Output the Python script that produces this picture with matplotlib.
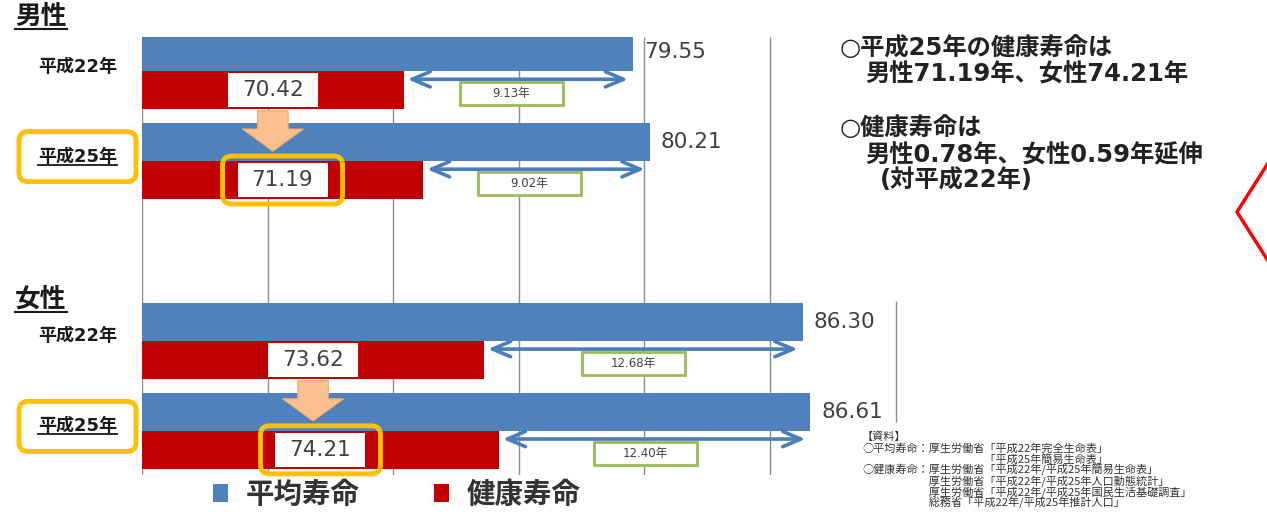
import matplotlib.pyplot as plt
import matplotlib.transforms as mtransforms
from matplotlib.patches import FancyBboxPatch
from matplotlib.lines import Line2D

plt.rcParams['font.family'] = ['DejaVu Sans', 'Noto Sans CJK JP']

# data (years of life, 平成22年 / 平成25年, men then women)
sections = ["男性", "女性"]
row_labels = ["平成22年", "平成25年", "平成22年", "平成25年"]
avg_life = [79.55, 80.21, 86.30, 86.61]        # 平均寿命
healthy_life = [70.42, 71.19, 73.62, 74.21]    # 健康寿命
row_pos = [0, 1, 3, 4]
highlight = [False, True, False, True]
series_names = ["平均寿命", "健康寿命"]

notes = ["○平成25年の健康寿命は", "男性71.19年、女性74.21年",
         "○健康寿命は", "男性0.78年、女性0.59年延伸", "(対平成22年)"]
sources = ["【資料】",
           "○平均寿命：厚生労働省「平成22年完全生命表」",
           "　　　　　　　　　　　「平成25年簡易生命表」",
           "○健康寿命：厚生労働省「平成22年/平成25年簡易生命表」",
           "　　　　　　厚生労働省「平成22年/平成25年人口動態統計」",
           "　　　　　　厚生労働省「平成22年/平成25年国民生活基礎調査」",
           "　　　　　　総務省「平成22年/平成25年推計人口」"]

BLUE = '#4F81BD'
RED = '#C00000'
ORANGE = '#FFC000'
GREEN = '#9BBB59'
TXT = '#404040'
x_min, x_max = 60, 90.2
y_top, y_bot = -0.38, 4.49
bar_h = 0.42

fig = plt.figure(figsize=(12.67, 5.12), dpi=100)
ax = fig.add_axes([142 / 1267, 1 - 475 / 512, 30.2 * 25.12 / 1267, 438 / 512])
ax.set_xlim(x_min, x_max)
ax.set_ylim(y_bot, y_top)
ax.axis('off')

# gridlines
ax.vlines([60, 65, 70, 75, 80, 85], y_top, y_bot, color='#8C8C8C', lw=1, zorder=1)
ax.vlines([90], 2.55, 3.9, color='#8C8C8C', lw=1, zorder=1)

b1 = ax.barh([p - bar_h / 2 for p in row_pos], avg_life, height=bar_h, color=BLUE, zorder=2)
b2 = ax.barh([p + bar_h / 2 for p in row_pos], healthy_life, height=bar_h, color=RED, zorder=2)

ylab_tr = ax.get_yaxis_transform()
label_texts, ring_texts, red_texts, diff_texts = [], [], [], []
for i, p in enumerate(row_pos):
    a, h = avg_life[i], healthy_life[i]
    ax.text(a + 0.45, p - bar_h / 2, f"{a:.2f}", ha='left', va='center',
            size=15.5, color=TXT, zorder=5)
    t = ax.text((x_min + h) / 2, p + bar_h / 2, f"{h:.2f}", ha='center', va='center',
                size=15.5, color=TXT, zorder=6)
    red_texts.append(t)
    if highlight[i]:
        ring_texts.append(t)
    # gap arrow
    ax.annotate("", xy=(h + 0.15, p + 0.09), xytext=(a - 0.2, p + 0.09),
                arrowprops=dict(arrowstyle="<->,head_length=1.3,head_width=0.55",
                                mutation_scale=10, color='#4A7EBB', lw=2.6,
                                shrinkA=0, shrinkB=0), zorder=3)
    dt = ax.text(h + 0.47 * (a - h), p + 0.25, f"{a - h:.2f}年", ha='center', va='center',
                 size=8.5, color=TXT, zorder=6)
    diff_texts.append(dt)
    lt = ax.text(-0.085, p - 0.05, row_labels[i], transform=ylab_tr, ha='center',
                 va='center', size=13, weight='bold', color='#1a1a1a', zorder=6)
    if highlight[i]:
        label_texts.append(lt)

# orange arrows 平成22年 -> 平成25年
for i in [0, 2]:
    xc = (x_min + healthy_life[i]) / 2
    ax.annotate("", xy=(xc, row_pos[i + 1] - 0.11), xytext=(xc, row_pos[i] + 0.44),
                arrowprops=dict(arrowstyle="simple,head_length=1.6,head_width=4.4,tail_width=2.2",
                                mutation_scale=10, fc='#FAC090', ec='#F5A968', lw=0.8,
                                shrinkA=0, shrinkB=0), zorder=3)

# section titles
title_texts = []
for name, yp in zip(sections, [17, 300]):
    title_texts.append(fig.text(15 / 1267, 1 - yp / 512, name, ha='left', va='center',
                                size=18.5, weight='bold', color='#1a1a1a'))

# notes at right
for s, xp, yp in zip(notes, [840, 865, 840, 865, 880], [48, 75, 128, 155, 180]):
    fig.text(xp / 1267, 1 - yp / 512, s, ha='left', va='center', size=17.5,
             weight='bold', color='#222222')

for k, s in enumerate(sources):
    fig.text(862 / 1267, 1 - (437 + 11 * k) / 512, s, ha='left', va='center',
             size=8, color='#333333', family=['Noto Sans CJK JP', 'DejaVu Sans'])

# red chevron at right edge
fig.add_artist(Line2D([1.01, 0.9763, 1.01], [0.717, 0.586, 0.455],
                      transform=fig.transFigure, color='red', lw=2.5))

fig.legend([b1, b2], series_names, loc='center', bbox_to_anchor=(0.313, 0.033), ncol=2,
           frameon=False, handlelength=0.55, handleheight=0.55, handletextpad=0.6,
           columnspacing=2.6, prop=dict(size=20.5, weight='bold'), labelcolor='#333333')

fig.canvas.draw()
renderer = fig.canvas.get_renderer()
ident = mtransforms.IdentityTransform()


def frame(t, w, h, fc, ec, lw, style="square,pad=0", z=4):
    bb = t.get_window_extent(renderer)
    cx, cy = (bb.x0 + bb.x1) / 2, (bb.y0 + bb.y1) / 2
    ax.add_artist(FancyBboxPatch((cx - w / 2, cy - h / 2), w, h, boxstyle=style, fc=fc,
                                 ec=ec, lw=lw, transform=ident, zorder=z, clip_on=False))


def underline(t, lw=1.3):
    bb = t.get_window_extent(renderer)
    fig.add_artist(Line2D([bb.x0, bb.x1], [bb.y0 + 1, bb.y0 + 1], transform=ident,
                          color='#1a1a1a', lw=lw))


for t in red_texts:
    frame(t, 90, 34, 'white', 'none', 0, z=5)
for t in ring_texts:
    frame(t, 120, 48, 'none', ORANGE, 3.5, "round,pad=0,rounding_size=9", z=4)
for t in diff_texts:
    frame(t, 103, 23, 'white', GREEN, 2, z=5)
for t in label_texts:
    frame(t, 117, 50, 'white', ORANGE, 3.5, "round,pad=0,rounding_size=9", z=5)
    underline(t)
for t in title_texts:
    underline(t, 1.5)

fig.savefig("out.png", dpi=100)
